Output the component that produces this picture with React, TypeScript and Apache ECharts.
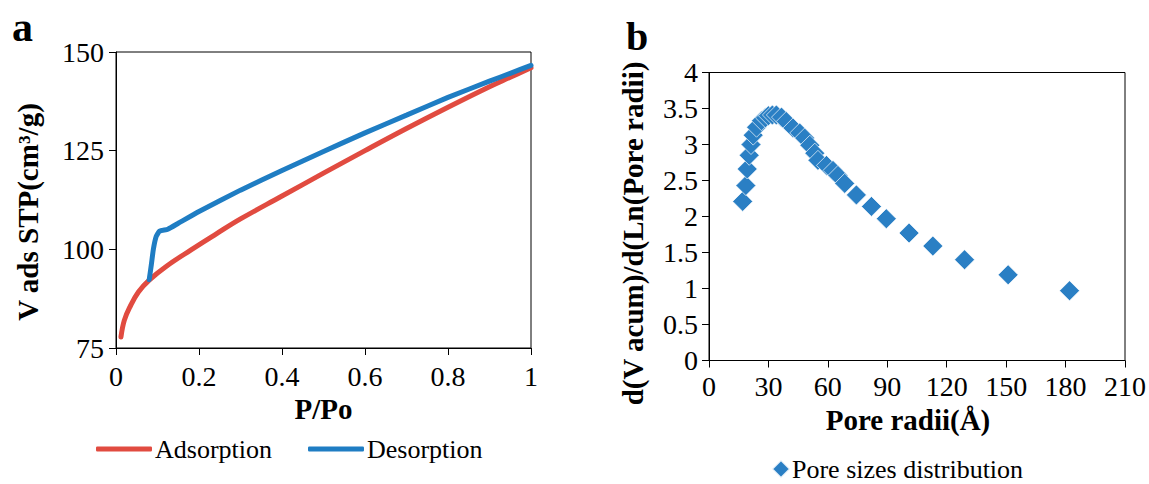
import React, { useEffect, useRef } from "react";
import * as echarts from "echarts";

const FONT = "Liberation Serif";

// Panel a: nitrogen isotherm
const adsorptionX = [0.012, 0.02, 0.034, 0.054, 0.08, 0.12, 0.18, 0.24, 0.3, 0.4, 0.5, 0.6, 0.7, 0.8, 0.9, 0.95, 1.0];
const adsorptionY = [77.8, 82, 85.5, 89.2, 92.2, 95.6, 99.8, 103.8, 107.7, 113.5, 119.3, 125, 130.6, 136, 141.2, 143.6, 146];
const desorptionX = [0.08, 0.085, 0.09, 0.097, 0.105, 0.125, 0.15, 0.2, 0.3, 0.4, 0.5, 0.6, 0.7, 0.8, 0.9, 0.95, 1.0];
const desorptionY = [92.3, 96, 100, 103.3, 104.6, 105.1, 106.6, 109.6, 115, 120, 124.8, 129.5, 134, 138.5, 142.6, 144.6, 146.6];

// Panel b: pore size distribution
const poreRadii = [17, 18.6, 19.3, 20.3, 21.2, 22.3, 24, 26.5, 28.5, 30, 32, 34, 36.6, 39, 42.4, 45.8, 48.3, 50.9, 53.4, 55, 59.3, 62.6, 65.1, 68.5, 74.4, 82, 89.5, 101, 113, 129, 151, 182];
const poreValues = [2.21, 2.43, 2.66, 2.85, 3.0, 3.13, 3.24, 3.33, 3.37, 3.4, 3.41, 3.41, 3.38, 3.32, 3.23, 3.16, 3.09, 2.99, 2.88, 2.78, 2.71, 2.64, 2.57, 2.46, 2.3, 2.14, 1.97, 1.77, 1.59, 1.4, 1.19, 0.97];

const RED = "#E14B40";
const BLUE = "#1F7DC3";
const DIAMOND = "#2A7FC4";

const rich = { r: { fontFamily: FONT, fontSize: 28, color: "#000" } };
const legendRich = { r: { fontFamily: FONT, fontSize: 26, color: "#000" } };

export default function App() {
  const ref = useRef<HTMLDivElement>(null);
  useEffect(() => {
    if (!ref.current) return;
    const chart = echarts.init(ref.current, undefined, { renderer: "svg" });
    const labelStyle = { color: "#000", fontFamily: FONT, fontSize: 28, formatter: "{r|{value}}", rich };
    const nameStyle = { color: "#000", fontFamily: FONT, fontSize: 29, fontWeight: "bold" };
    const axisCommon = {
      axisLine: { show: true, lineStyle: { color: "#000", width: 1 } },
      axisTick: { show: true, inside: false, length: 7, lineStyle: { color: "#000" } },
      splitLine: { show: false },
    };
    chart.setOption({
      animation: false,
      backgroundColor: "#fff",
      textStyle: { fontFamily: FONT },
      grid: [
        { left: 116, top: 52, width: 415, height: 296, show: true, borderColor: "#000", borderWidth: 1, containLabel: false },
        { left: 709, top: 72.5, width: 417, height: 288, show: true, borderColor: "#000", borderWidth: 1, containLabel: false },
      ],
      xAxis: [
        {
          ...axisCommon,
          type: "value",
          gridIndex: 0,
          min: 0,
          max: 1,
          interval: 0.2,
          name: "P/Po",
          nameLocation: "middle",
          nameGap: 42,
          nameTextStyle: { ...nameStyle },
          axisLabel: { ...labelStyle, margin: 14 },
        },
        {
          ...axisCommon,
          type: "value",
          gridIndex: 1,
          min: 0,
          max: 210,
          interval: 30,
          name: "Pore radii(Å)",
          nameLocation: "middle",
          nameGap: 44,
          nameTextStyle: { ...nameStyle, padding: [0, 18, 0, 0] },
          axisLabel: { ...labelStyle, margin: 12 },
        },
      ],
      yAxis: [
        {
          ...axisCommon,
          type: "value",
          gridIndex: 0,
          min: 75,
          max: 150,
          interval: 25,
          name: "V ads STP(cm³/g)",
          nameLocation: "middle",
          nameGap: 74,
          nameTextStyle: { ...nameStyle, padding: [0, 24, 0, 0] },
          axisLabel: { ...labelStyle, margin: 12 },
        },
        {
          ...axisCommon,
          type: "value",
          gridIndex: 1,
          min: 0,
          max: 4,
          interval: 0.5,
          name: "d(V acum)/d(Ln(Pore radii)",
          nameLocation: "middle",
          nameGap: 62,
          nameTextStyle: { ...nameStyle, padding: [0, 34, 0, 0] },
          axisLabel: { ...labelStyle, margin: 11 },
        },
      ],
      legend: [
        {
          data: ["Adsorption", "Desorption"],
          left: 96,
          top: 436,
          padding: 0,
          icon: "roundRect",
          itemWidth: 56,
          itemHeight: 5,
          itemGap: 36,
          formatter: "{r|{name}}",
          textStyle: { color: "#000", fontFamily: FONT, fontSize: 26, padding: [0, 0, 0, -2], rich: legendRich },
        },
        {
          data: ["Pore sizes distribution"],
          left: 771,
          top: 456,
          padding: 0,
          icon: "diamond",
          itemWidth: 18,
          itemHeight: 18,
          formatter: "{r|{name}}",
          textStyle: { color: "#000", fontFamily: FONT, fontSize: 26, padding: [0, 0, 0, -3], rich: legendRich },
        },
      ],
      graphic: [
        { type: "text", left: 12, top: 6, style: { text: "a", fontFamily: FONT, fontSize: 42, fontWeight: "bold", fill: "#000" } },
        { type: "text", left: 626, top: 16, style: { text: "b", fontFamily: FONT, fontSize: 40, fontWeight: "bold", fill: "#000" } },
      ],
      series: [
        {
          name: "Adsorption",
          type: "line",
          xAxisIndex: 0,
          yAxisIndex: 0,
          data: adsorptionX.map((x, i) => [x, adsorptionY[i]]),
          symbol: "none",
          smooth: 0.4,
          lineStyle: { color: RED, width: 5, cap: "round" },
          itemStyle: { color: RED },
        },
        {
          name: "Desorption",
          type: "line",
          xAxisIndex: 0,
          yAxisIndex: 0,
          data: desorptionX.map((x, i) => [x, desorptionY[i]]),
          symbol: "none",
          smooth: 0.15,
          lineStyle: { color: BLUE, width: 5, cap: "round" },
          itemStyle: { color: BLUE },
        },
        {
          name: "Pore sizes distribution",
          type: "scatter",
          xAxisIndex: 1,
          yAxisIndex: 1,
          data: poreRadii.map((x, i) => [x, poreValues[i]]),
          symbol: "diamond",
          symbolSize: 20,
          itemStyle: { color: DIAMOND, borderColor: "rgba(255,255,255,0.85)", borderWidth: 0.8, opacity: 1 },
        },
      ],
    });
    return () => chart.dispose();
  }, []);
  return (
    <div
      ref={ref}
      style={{ position: "absolute", left: 0, top: 0, width: 1149, height: 484, background: "#fff" }}
    />
  );
}
